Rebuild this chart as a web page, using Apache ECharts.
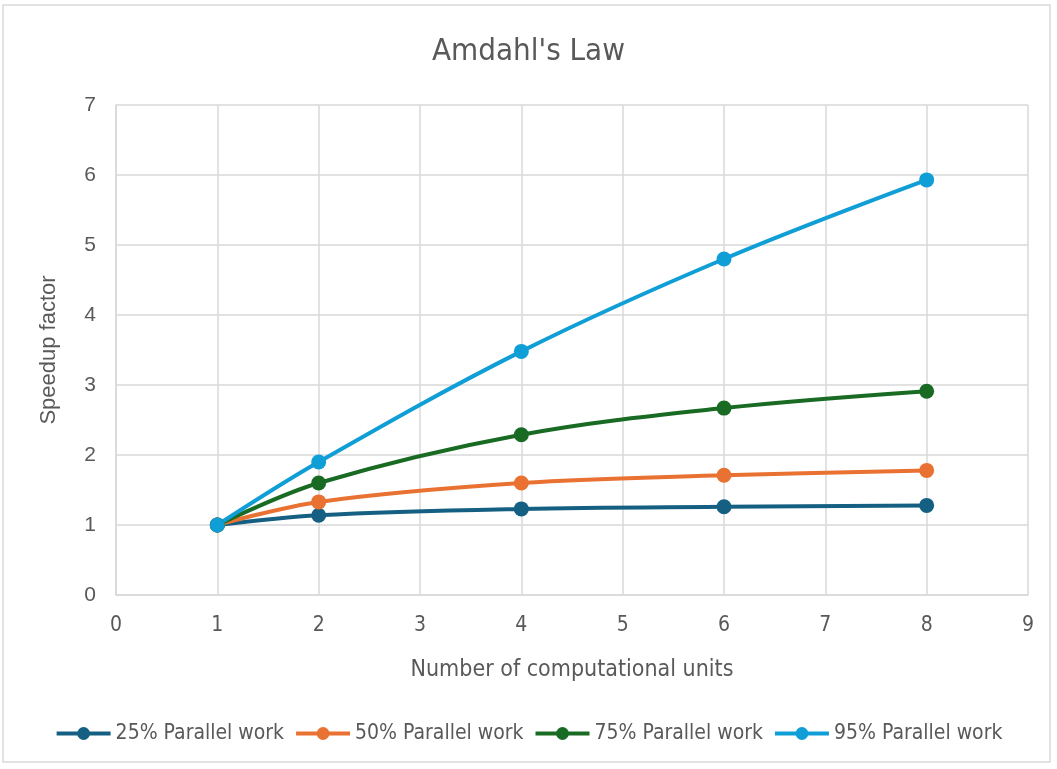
<!DOCTYPE html>
<html>
<head>
<meta charset="utf-8">
<script src="https://cdn.jsdelivr.net/npm/echarts@6/dist/echarts.min.js"></script>
<style>
  html, body { margin: 0; padding: 0; background: #fff; }
  #chart { width: 1057px; height: 769px; }
</style>
</head>
<body>
<div id="chart"></div>
<script>
// computational units (x)
var units = [1, 2, 4, 6, 8];
// speedup per parallel fraction
var par25 = [1, 1.14, 1.23, 1.26, 1.28];
var par50 = [1, 1.33, 1.60, 1.71, 1.78];
var par75 = [1, 1.60, 2.29, 2.67, 2.91];
var par95 = [1, 1.90, 3.48, 4.80, 5.93];
var seriesNames = ['25% Parallel work', '50% Parallel work', '75% Parallel work', '95% Parallel work'];
var seriesColors = ['#156082', '#e97132', '#196b24', '#0f9ed5'];

var narrow = "DejaVu Sans Condensed, sans-serif";
var sans = "Liberation Sans, Arial, sans-serif";
var txt = '#595959';

function pairs(ys) {
    return units.map(function (x, i) { return [x, ys[i]]; });
}

var allData = [par25, par50, par75, par95];

var option = {
    animation: false,
    backgroundColor: '#fff',
    graphic: [{
        type: 'rect',
        shape: { x: 3, y: 5, width: 1047, height: 757 },
        style: { fill: 'none', stroke: '#d9d9d9', lineWidth: 1.5 },
        silent: true
    }],
    title: {
        text: "Amdahl's Law",
        left: 'center',
        top: 31,
        textStyle: { fontFamily: narrow, fontWeight: 'normal', fontSize: 31, color: txt }
    },
    legend: {
        bottom: 20,
        left: 'center',
        itemWidth: 54,
        itemHeight: 16,
        itemGap: 10,
        lineStyle: { width: 4 },
        textStyle: { fontFamily: narrow, fontSize: 21, color: txt },
        data: seriesNames
    },
    grid: { left: 116, right: 29, top: 105, bottom: 174 },
    xAxis: {
        type: 'value',
        min: 0, max: 9, interval: 1,
        name: 'Number of computational units',
        nameLocation: 'middle',
        nameGap: 64,
        nameTextStyle: { fontFamily: narrow, fontSize: 23, color: txt },
        axisLine: { show: true, lineStyle: { color: '#d9d9d9', width: 1.5 } },
        axisTick: { show: false },
        axisLabel: { fontFamily: narrow, fontSize: 21, color: txt, margin: 20 },
        splitLine: { show: true, lineStyle: { color: '#d9d9d9', width: 1.5 } }
    },
    yAxis: {
        type: 'value',
        min: 0, max: 7, interval: 1,
        name: 'Speedup factor',
        nameLocation: 'middle',
        nameGap: 56,
        nameTextStyle: { fontFamily: sans, fontSize: 22, color: txt },
        axisLine: { show: true, lineStyle: { color: '#d9d9d9', width: 1.5 } },
        axisTick: { show: false },
        axisLabel: { fontFamily: sans, fontSize: 21, color: txt, margin: 20 },
        splitLine: { show: true, lineStyle: { color: '#d9d9d9', width: 1.5 } }
    },
    series: seriesNames.map(function (name, i) {
        return {
            name: name,
            type: 'line',
            smooth: 0.35,
            data: pairs(allData[i]),
            symbol: 'circle',
            symbolSize: 15,
            color: seriesColors[i],
            lineStyle: { width: 4, color: seriesColors[i] },
            itemStyle: { color: seriesColors[i] }
        };
    })
};

var myChart = echarts.init(document.getElementById('chart'));
myChart.setOption(option);
</script>
</body>
</html>
